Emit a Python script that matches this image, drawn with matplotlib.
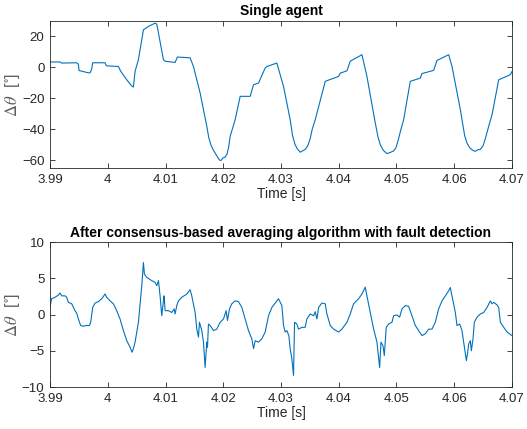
import numpy as np
from matplotlib import pyplot as plt

plt.rcParams["font.family"] = ["Liberation Sans", "DejaVu Sans"]
plt.rcParams["mathtext.fontset"] = "stix"

# single agent (time [s], angle error [deg])
t_single = [3.99000, 3.99173, 3.99202, 3.99462, 3.99491, 3.99503, 3.99664, 3.99693,
            3.99722, 3.99739, 3.99953, 3.99971, 3.99982, 4.00184, 4.00225, 4.00329,
            4.00415, 4.00444, 4.00473, 4.00531, 4.00618, 4.00704, 4.00820, 4.00849,
            4.00964, 4.00993, 4.01166, 4.01207, 4.01426, 4.01484, 4.01600, 4.01715,
            4.01750, 4.01790, 4.01830, 4.01870, 4.01910, 4.01946, 4.01970, 4.01992,
            4.02033, 4.02065, 4.02091, 4.02120, 4.02206,
            4.02293, 4.02466, 4.02524, 4.02611, 4.02726, 4.02755, 4.02928, 4.03044,
            4.03159, 4.03200, 4.03240, 4.03280, 4.03333, 4.03370, 4.03419, 4.03460,
            4.03506, 4.03540, 4.03593, 4.03766, 4.03997,
            4.04026, 4.04142, 4.04199, 4.04402, 4.04488, 4.04633, 4.04680, 4.04720,
            4.04770, 4.04835, 4.04890, 4.04950, 4.04990, 4.05030, 4.05070,
            4.05124, 4.05239, 4.05412, 4.05441, 4.05644, 4.05701,
            4.05904, 4.05962, 4.06106, 4.06180, 4.06222, 4.06270, 4.06330, 4.06366,
            4.06410, 4.06453, 4.06500, 4.06539,
            4.06597, 4.06655, 4.06770, 4.06972, 4.07001]
d_single = [3.5, 3.5, 2.8, 3.0, 2.0, -2.0, -3.5, -3.5,
            -1.0, 3.0, 3.0, 1.5, 1.0, 0.6, -2.5, -8.0,
            -12.0, -12.7, -2.5, 5.0, 24.3, 26.5, 28.6, 28.0,
            5.0, 4.0, 3.2, 6.7, 6.2, 0.6, -16.6, -38.0,
            -45.5, -50.5, -53.5, -56.0, -58.5, -60.2, -59.8, -58.5,
            -58.0, -56.0, -52.0, -44.5, -33.8,
            -18.7, -18.7, -11.2, -10.1, -0.4, 0.6, 2.8, -12.3,
            -33.8, -44.0, -49.5, -52.5, -54.8, -54.0, -53.0, -51.0,
            -46.0, -40.0, -33.8, -9.0, -5.8,
            -3.7, -2.2, 4.0, 8.2, -5.8, -36.0, -45.0, -50.0,
            -53.5, -55.7, -55.0, -54.0, -52.0, -47.0, -41.0,
            -33.8, -9.0, -6.9, -4.0, -1.9, 4.5,
            8.2, 0.6, -27.3, -44.0, -49.0, -52.0, -53.8, -54.2,
            -53.2, -53.0, -50.5, -46.0,
            -38.0, -30.5, -8.0, -4.7, -2.6]

# after consensus-based averaging with fault detection
t_cons = [3.99000, 3.99029, 3.99087, 3.99144, 3.99173, 3.99202, 3.99260, 3.99289,
          3.99318, 3.99376, 3.99433, 3.99462, 3.99491, 3.99531, 3.99578, 3.99624,
          3.99682, 3.99705, 3.99739, 3.99780, 3.99838, 3.99895, 3.99953, 3.99982,
          4.00040, 4.00098, 4.00155, 4.00213, 4.00271, 4.00329, 4.00386, 4.00421,
          4.00444, 4.00473, 4.00531, 4.00589, 4.00618, 4.00635, 4.00675, 4.00762,
          4.00820, 4.00849, 4.00878, 4.00906, 4.00935, 4.00964, 4.00976, 4.00993,
          4.01051, 4.01109, 4.01149, 4.01166, 4.01195, 4.01224, 4.01282, 4.01369,
          4.01426, 4.01455, 4.01513, 4.01542, 4.01571, 4.01588, 4.01629, 4.01657,
          4.01686, 4.01715, 4.01727, 4.01744, 4.01773, 4.01831, 4.01889, 4.01946,
          4.02004, 4.02050, 4.02073, 4.02108, 4.02148, 4.02206, 4.02264, 4.02322,
          4.02380, 4.02437, 4.02495, 4.02524, 4.02553, 4.02611, 4.02668, 4.02726,
          4.02784, 4.02842, 4.02900, 4.02957, 4.03015, 4.03044, 4.03073, 4.03102,
          4.03136, 4.03159, 4.03188, 4.03217, 4.03235, 4.03275, 4.03304, 4.03362,
          4.03419, 4.03448, 4.03506, 4.03564, 4.03593, 4.03622, 4.03651, 4.03708,
          4.03766, 4.03795, 4.03853, 4.03911, 4.03997, 4.04055, 4.04142, 4.04199,
          4.04257, 4.04344, 4.04402, 4.04459, 4.04488, 4.04546, 4.04604, 4.04662,
          4.04708, 4.04731, 4.04766, 4.04789, 4.04823, 4.04864, 4.04922, 4.04950,
          4.05008, 4.05054, 4.05095, 4.05153, 4.05210, 4.05268, 4.05326, 4.05384,
          4.05441, 4.05499, 4.05557, 4.05615, 4.05672, 4.05730, 4.05788, 4.05846,
          4.05904, 4.05932, 4.05961, 4.06019, 4.06048, 4.06094, 4.06134, 4.06163,
          4.06210, 4.06233, 4.06250, 4.06279, 4.06296, 4.06325, 4.06348, 4.06395,
          4.06453, 4.06510, 4.06568, 4.06626, 4.06655, 4.06684, 4.06741, 4.06770,
          4.06799, 4.06857, 4.06915, 4.07000]
d_cons = [1.15, 2.2, 2.4, 2.7, 3.0, 2.6, 2.6, 2.4,
          1.7, 1.5, 0.55, 0.2, -0.6, -1.5, -1.6, -1.5,
          -1.5, -1.05, 1.0, 1.6, 1.8, 2.2, 2.85, 2.4,
          1.9, 1.5, 0.55, -0.6, -2.2, -3.6, -4.5, -5.2,
          -4.7, -3.8, -1.05, 4.0, 7.2, 5.6, 5.15, 4.7,
          4.45, 4.0, 4.7, 2.6, -0.15, 1.9, 2.6, 0.55,
          0.55, 0.3, 0.8, 0.1, 1.25, 1.9, 2.4, 2.85,
          3.45, 2.6, 0.3, -2.0, -3.1, -1.05, -2.2, -3.8,
          -7.3, -3.8, -4.5, -1.3, -1.5, -2.2, -2.0, -1.05,
          -0.6, 0.55, -0.8, 0.8, 1.5, 1.9, 1.8, 1.0,
          -0.6, -2.2, -3.35, -4.7, -3.6, -3.8, -3.35, -2.4,
          -0.15, 1.0, 1.6, 2.2, 1.25, -1.5, -2.4, -2.2,
          -2.9, -4.7, -6.1, -8.4, -1.05, -1.3, -2.0, -1.75,
          -1.75, -0.6, 0.1, -0.15, 0.4, -0.6, 1.0, 1.6,
          1.5, 0.1, -1.5, -2.0, -2.4, -2.0, -1.05, 0.1,
          1.5, 2.2, 2.85, 3.8, 2.6, 0.3, -2.0, -3.8,
          -7.3, -3.8, -4.3, -5.65, -1.75, -1.3, -1.05, -0.15,
          -0.05, -0.35, 0.8, 1.25, 1.15, -0.15, -1.5, -2.2,
          -2.9, -2.65, -2.0, -2.0, -1.05, 0.8, 1.9, 2.6,
          3.3, 3.75, 2.6, 0.3, -1.5, -1.3, -2.2, -3.8,
          -6.35, -5.2, -4.05, -3.6, -5.0, -3.35, -1.05, -0.35,
          0.1, 0.3, 1.0, 1.9, 1.5, 1.7, 1.35, 1.0,
          -1.05, -1.75, -2.4, -2.9]

xticks = [3.99, 4.0, 4.01, 4.02, 4.03, 4.04, 4.05, 4.06, 4.07]
xticklabels = ["3.99", "4", "4.01", "4.02", "4.03", "4.04", "4.05", "4.06", "4.07"]

line_col = "#0072BD"
txt_col = "#262626"


def style_axes(ax, yticks, ylim, title):
    ax.set_xlim(3.99, 4.07)
    ax.set_ylim(*ylim)
    ax.set_xticks(xticks)
    ax.set_xticklabels(xticklabels)
    ax.set_yticks(yticks)
    ax.tick_params(direction="in", top=True, right=True, length=3.5, width=0.6,
                   labelsize=9.5, colors=txt_col, pad=4)
    for s in ax.spines.values():
        s.set_linewidth(0.6)
        s.set_color(txt_col)
    ax.set_title(title, fontsize=10, fontweight="bold", color="black", pad=4)
    ax.set_xlabel("Time [s]", fontsize=10, color=txt_col, labelpad=1)
    ax.set_ylabel(r"$\Delta\theta$  [$^{\circ}$]", fontsize=12, color="#606060", labelpad=0)


fig = plt.figure(figsize=(5.27, 4.29), dpi=100)
ax1 = fig.add_axes([0.0949, 0.6084, 0.8766, 0.3427])
ax1.plot(t_single, d_single, color=line_col, lw=0.8)
style_axes(ax1, [-60, -40, -20, 0, 20], (-65, 30), "Single agent")

ax2 = fig.add_axes([0.0949, 0.0979, 0.8766, 0.3373])
ax2.plot(t_cons, d_cons, color=line_col, lw=0.8)
style_axes(ax2, [-10, -5, 0, 5, 10], (-10, 10),
           "After consensus-based averaging algorithm with fault detection")

fig.savefig("out.png", dpi=100)
plt.close(fig)
